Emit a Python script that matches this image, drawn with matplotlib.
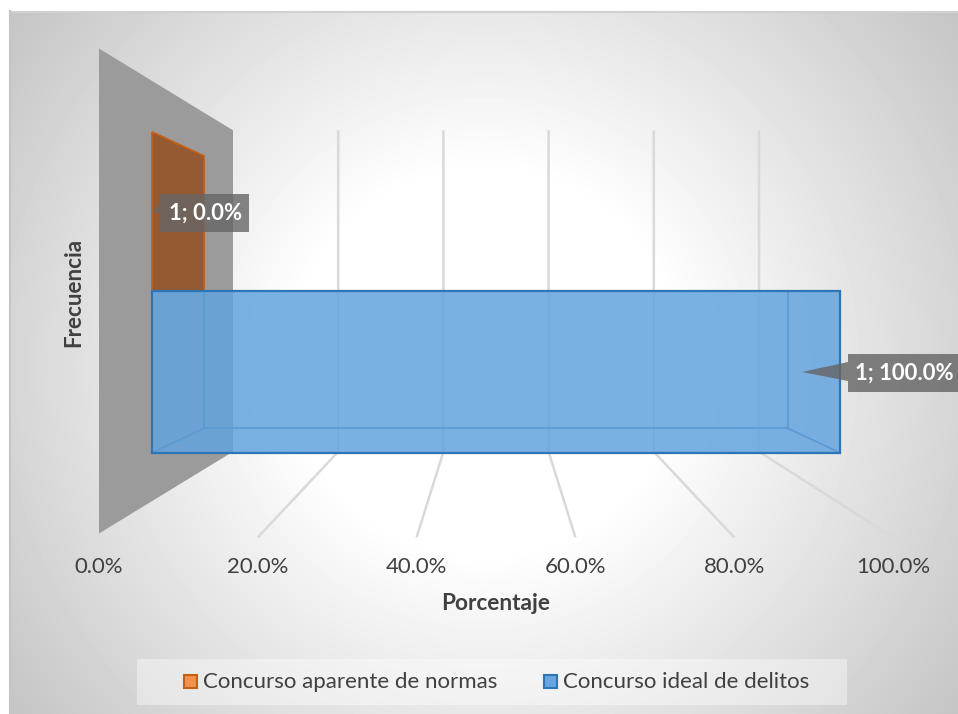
#!/usr/bin/env python3
"""Barras 3D en perspectiva: concurso aparente vs concurso ideal."""

import numpy as np
import matplotlib
matplotlib.use("Agg")
import matplotlib.pyplot as plt
from matplotlib.patches import Polygon, Rectangle

plt.rcParams['font.family'] = ['Lato', 'DejaVu Sans']

# Datos
categorias = ['Concurso aparente de normas', 'Concurso ideal de delitos']
porcentajes = [0.0, 100.0]
frecuencias = [1, 1]
ticks_x = [0, 20, 40, 60, 80, 100]
titulo_x = 'Porcentaje'
titulo_y = 'Frecuencia'

# Colores
GRIS_PARED = '#9b9b9b'
GRIS_REJILLA = '#d9d9d9'
NARANJA = '#965a32'
NARANJA_BORDE = '#c55f16'
NARANJA_LEYENDA = '#f2914f'
AZUL = '#64a3de'
AZUL_BORDE = '#2e75b6'
AZUL_INTERIOR = '#5b9bd5'
TEXTO = '#404040'

# Proyeccion en perspectiva (centro de fuga y escalas de profundidad)
CX, CY = 496.0, 291.0
ANCHO, ALTO = 397.0, 242.5
S_FRENTE, S_FONDO = 1.0, 0.6625
S_BARRA_FRENTE, S_BARRA_FONDO = 0.8665, 0.7355


def proyectar(valor, h, s):
    """valor en % del eje, h en -1..1 (abajo positivo), s escala de profundidad."""
    x = CX + (valor / 50.0 - 1.0) * ANCHO * s
    y = CY + h * ALTO * s
    return x, y


def fondo_degradado(ax):
    # degradado radial del area del grafico
    xx, yy = np.meshgrid(np.arange(10, 958), np.arange(11, 714))
    r = np.hypot(xx - 484, yy - 362)
    t = np.clip((r - 190) / (600 - 190), 0, 1)
    gris = 1.0 - t * (1.0 - 0.765)
    ax.imshow(gris, cmap='gray', vmin=0, vmax=1, extent=(10, 958, 714, 11),
              aspect='auto', zorder=0, interpolation='bilinear')
    ax.plot([10, 958], [11.5, 11.5], color='#d0d0d0', lw=1.5, zorder=1)
    ax.plot([10.5, 10.5], [11, 714], color='#c4c4c4', lw=1.5, zorder=1)


def dibujar_pared_y_rejilla(ax):
    pared = [proyectar(0, -1, S_FRENTE), proyectar(0, -1, S_FONDO),
             proyectar(0, 1, S_FONDO), proyectar(0, 1, S_FRENTE)]
    ax.add_patch(Polygon(pared, closed=True, fc=GRIS_PARED, ec='none', zorder=2))
    for v in ticks_x[1:]:
        xs, ys = zip(proyectar(v, -1, S_FONDO), proyectar(v, 1, S_FONDO),
                     proyectar(v, 1.016, S_FRENTE))
        ax.plot(xs, ys, color=GRIS_REJILLA, lw=1.8, zorder=2,
                solid_capstyle='butt', solid_joinstyle='miter')


def dibujar_barras(ax):
    # barra naranja (valor 0: solo se ve la lamina sobre la pared)
    v0 = porcentajes[0]
    lamina = [proyectar(v0, -0.757, S_BARRA_FRENTE), proyectar(v0, -0.757, S_BARRA_FONDO),
              proyectar(v0, 0, S_BARRA_FONDO), proyectar(v0, 0, S_BARRA_FRENTE)]
    ax.add_patch(Polygon(lamina, closed=True, fc=NARANJA, ec=NARANJA_BORDE, lw=1.3, zorder=3))

    # barra azul
    v1 = porcentajes[1]
    frente = [proyectar(0, 0, S_BARRA_FRENTE), proyectar(v1, 0, S_BARRA_FRENTE),
              proyectar(v1, 0.77, S_BARRA_FRENTE), proyectar(0, 0.77, S_BARRA_FRENTE)]
    fondo = [proyectar(0, 0, S_BARRA_FONDO), proyectar(v1, 0, S_BARRA_FONDO),
             proyectar(v1, 0.77, S_BARRA_FONDO), proyectar(0, 0.77, S_BARRA_FONDO)]
    ax.add_patch(Polygon(frente, closed=True, fc=AZUL, ec='none', alpha=0.85, zorder=4))
    # aristas interiores
    ax.plot([fondo[0][0], fondo[3][0], fondo[2][0], fondo[1][0]],
            [fondo[0][1], fondo[3][1], fondo[2][1], fondo[1][1]],
            color=AZUL_INTERIOR, lw=1.3, zorder=5)
    for a, b in ((frente[3], fondo[3]), (frente[2], fondo[2])):
        ax.plot([a[0], b[0]], [a[1], b[1]], color=AZUL_INTERIOR, lw=1.3, zorder=5)
    ax.add_patch(Polygon(frente, closed=True, fc='none', ec=AZUL_BORDE, lw=1.6, zorder=6))


def etiqueta(ax, texto, caja, punta, alpha):
    # recuadro gris con su punta hacia la barra
    x0, y0, x1, y1 = caja
    ym = (y0 + y1) / 2
    ax.add_patch(Polygon([(x0, y0), (x1, y0), (x1, y1), (x0, y1), (x0, ym + 8 if punta[0] > 700 else ym),
                          punta, (x0, ym - 11 if punta[0] > 700 else ym - 9)],
                         closed=True, fc='#666666', ec='none', alpha=alpha, zorder=7))
    ax.text((x0 + x1) / 2 + 1, ym, texto, color='white', fontsize=15.8, fontweight='bold',
            ha='center', va='center', zorder=8)


def dibujar_textos(ax):
    etiqueta(ax, f'{frecuencias[0]}; {porcentajes[0]:.1f}%', (160, 194, 249, 232), (152, 212), 0.8)
    etiqueta(ax, f'{frecuencias[1]}; {porcentajes[1]:.1f}%', (848, 354, 958, 392), (802, 372), 0.82)

    for v in ticks_x:
        x, _ = proyectar(v, 1, S_FRENTE)
        ax.text(x, 567, f'{v:.1f}%', color=TEXTO, fontsize=15.9, ha='center', va='center')
    ax.text(496, 604, titulo_x, color=TEXTO, fontsize=16.3, fontweight='bold', ha='center', va='center')
    ax.text(74, 292, titulo_y, color=TEXTO, fontsize=16.2, fontweight='bold',
            rotation=90, ha='center', va='center')

    # leyenda
    ax.add_patch(Rectangle((137, 659), 710, 46, fc='white', ec='none', alpha=0.4, zorder=2))
    ax.add_patch(Rectangle((184, 675), 13, 13, fc=NARANJA_LEYENDA, ec=NARANJA_BORDE, lw=1.5, zorder=3))
    ax.text(203, 682, categorias[0], color=TEXTO, fontsize=16, ha='left', va='center', zorder=3)
    ax.add_patch(Rectangle((544, 675), 13, 13, fc='#6aa5df', ec=AZUL_BORDE, lw=1.5, zorder=3))
    ax.text(563, 682, categorias[1], color=TEXTO, fontsize=16, ha='left', va='center', zorder=3)


def main():
    fig = plt.figure(figsize=(9.58, 7.14), dpi=100, facecolor='white')
    ax = fig.add_axes([0, 0, 1, 1])
    fondo_degradado(ax)
    dibujar_pared_y_rejilla(ax)
    dibujar_barras(ax)
    dibujar_textos(ax)
    ax.set_xlim(0, 958)
    ax.set_ylim(714, 0)
    ax.axis('off')
    fig.savefig('out.png', dpi=100)


if __name__ == "__main__":
    main()
